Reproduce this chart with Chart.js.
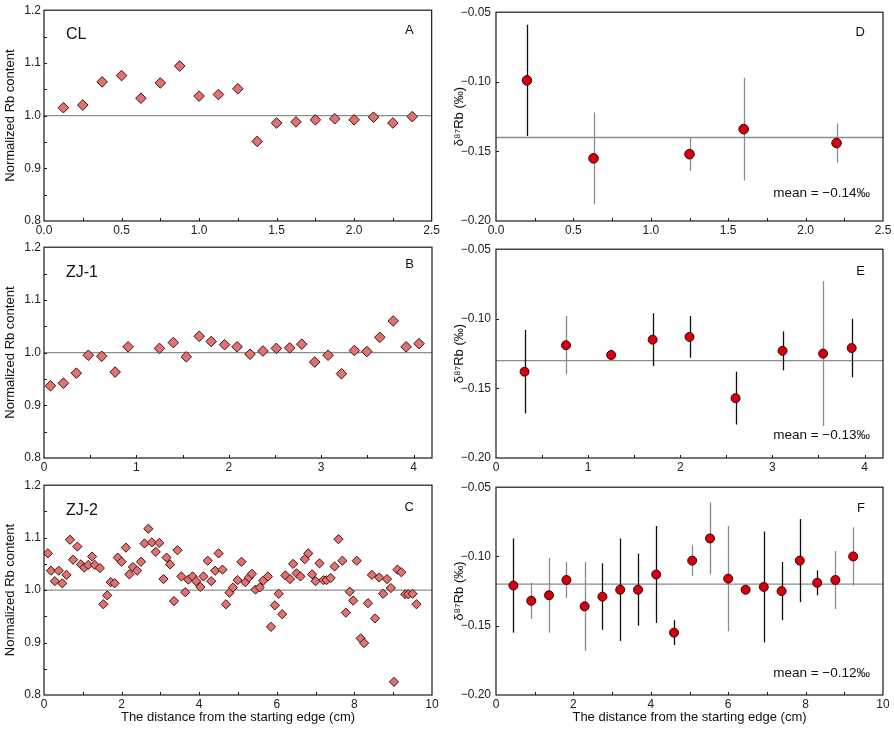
<!DOCTYPE html>
<html>
<head>
<meta charset="utf-8">
<script src="https://cdn.jsdelivr.net/npm/chart.js@4.4.1/dist/chart.umd.min.js"></script>
<style>
  html, body { margin: 0; padding: 0; background: #fff; }
  #wrap { position: relative; width: 894px; height: 729px; overflow: hidden; }
  #wrap canvas { position: absolute; }
</style>
</head>
<body>
<div id="wrap">
  <canvas id="cA"></canvas>
  <canvas id="cB"></canvas>
  <canvas id="cC"></canvas>
  <canvas id="cD"></canvas>
  <canvas id="cE"></canvas>
  <canvas id="cF"></canvas>
</div>
<script>
/* ================== DATA ================== */
// normalized Rb content profiles
const clDist = [0.125, 0.25, 0.375, 0.5, 0.625, 0.75, 0.875, 1.0, 1.125, 1.25, 1.375, 1.5, 1.625, 1.75, 1.875, 2.0, 2.125, 2.25, 2.375];
const clRb   = [1.015, 1.020, 1.064, 1.076, 1.033, 1.062, 1.094, 1.037, 1.040, 1.051, 0.951, 0.986, 0.988, 0.992, 0.994, 0.992, 0.997, 0.986, 0.998];

const zj1Dist = [0.07, 0.21, 0.35, 0.48, 0.625, 0.77, 0.91, 1.25, 1.40, 1.54, 1.68, 1.81, 1.955, 2.09, 2.23, 2.37, 2.515, 2.66, 2.79, 2.93, 3.075, 3.22, 3.36, 3.495, 3.635, 3.78, 3.92, 4.06];
const zj1Rb   = [0.937, 0.942, 0.961, 0.995, 0.993, 0.963, 1.011, 1.008, 1.019, 0.992, 1.031, 1.021, 1.015, 1.011, 0.997, 1.003, 1.008, 1.009, 1.016, 0.982, 0.995, 0.960, 1.004, 1.002, 1.029, 1.060, 1.011, 1.017];

const zj2Dist = [0.10, 0.18, 0.28, 0.38, 0.47, 0.58, 0.67, 0.75, 0.86, 0.95, 1.04, 1.14, 1.24, 1.31, 1.44, 1.53, 1.63, 1.72, 1.82, 1.90,
                 2.00, 2.11, 2.20, 2.29, 2.40, 2.50, 2.59, 2.69, 2.78, 2.88, 2.97, 3.08, 3.16, 3.25, 3.35, 3.44, 3.54, 3.64, 3.72, 3.83,
                 3.92, 4.03, 4.11, 4.22, 4.31, 4.41, 4.50, 4.60, 4.69, 4.78, 4.87, 4.99, 5.09, 5.19, 5.28, 5.36, 5.45, 5.56, 5.65, 5.77,
                 5.85, 5.95, 6.05, 6.14, 6.22, 6.34, 6.42, 6.51, 6.61, 6.72, 6.81, 6.91, 7.00, 7.10, 7.20, 7.28, 7.39, 7.49, 7.59, 7.69,
                 7.78, 7.88, 7.97, 8.06, 8.16, 8.25, 8.35, 8.45, 8.53, 8.64, 8.74, 8.84, 8.94, 9.02, 9.11, 9.21, 9.31, 9.39, 9.50, 9.60];
const zj2Rb   = [1.070, 1.037, 1.017, 1.037, 1.013, 1.029, 1.096, 1.058, 1.083, 1.049, 1.043, 1.048, 1.064, 1.048, 1.042, 0.973, 0.990, 1.015, 1.013, 1.062,
                 1.054, 1.081, 1.030, 1.044, 1.037, 1.054, 1.089, 1.117, 1.091, 1.073, 1.090, 1.021, 1.062, 1.049, 0.979, 1.076, 1.026, 0.996, 1.020, 1.026,
                 1.017, 1.006, 1.026, 1.056, 1.017, 1.037, 1.070, 1.039, 0.973, 0.995, 1.005, 1.019, 1.054, 1.015, 1.024, 1.031, 1.001, 1.005, 1.018, 1.026,
                 0.930, 0.971, 0.993, 0.954, 1.028, 1.021, 1.050, 1.032, 1.026, 1.059, 1.070, 1.030, 1.017, 1.051, 1.019, 1.019, 1.023, 1.045, 1.097, 1.056,
                 0.957, 0.997, 0.980, 1.056, 0.908, 0.899, 0.975, 1.029, 0.946, 1.024, 0.993, 1.021, 1.004, 0.825, 1.039, 1.034, 0.992, 0.992, 0.993, 0.973];

// delta 87Rb profiles with 2SD error
const clIsoDist = [0.20, 0.63, 1.25, 1.60, 2.20];
const clIso     = [-0.099, -0.155, -0.152, -0.134, -0.144];
const clIsoErr  = [0.040, 0.033, 0.012, 0.037, 0.014];

const zj1IsoDist = [0.31, 0.76, 1.25, 1.70, 2.10, 2.60, 3.11, 3.55, 3.86];
const zj1Iso     = [-0.138, -0.119, -0.126, -0.115, -0.113, -0.157, -0.123, -0.125, -0.121];
const zj1IsoErr  = [0.030, 0.021, 0.004, 0.019, 0.015, 0.019, 0.014, 0.052, 0.021];

const zj2IsoDist = [0.45, 0.91, 1.37, 1.82, 2.29, 2.75, 3.21, 3.67, 4.14, 4.60, 5.07, 5.53, 6.00, 6.45, 6.92, 7.38, 7.85, 8.30, 8.77, 9.23];
const zj2Iso     = [-0.121, -0.132, -0.128, -0.117, -0.136, -0.129, -0.124, -0.124, -0.113, -0.155, -0.103, -0.087, -0.116, -0.124, -0.122, -0.125, -0.103, -0.119, -0.117, -0.100];
const zj2IsoErr  = [0.034, 0.013, 0.027, 0.013, 0.032, 0.024, 0.037, 0.026, 0.035, 0.009, 0.011, 0.026, 0.038, 0.002, 0.040, 0.021, 0.030, 0.009, 0.021, 0.021];

const rbRef = 1.0;
const clMean = -0.14, zj1Mean = -0.13, zj2Mean = -0.12;

// tick values
const ticksX25 = [0, 0.5, 1.0, 1.5, 2.0, 2.5];
const ticksX4  = [0, 1, 2, 3, 4];
const ticksX10 = [0, 2, 4, 6, 8, 10];
const ticksRb  = [0.8, 0.9, 1.0, 1.1, 1.2];
const ticksIso = [-0.20, -0.15, -0.10, -0.05];

/* ================== STYLE ================== */
const FONT = "'Liberation Sans', Arial, sans-serif";
Chart.defaults.font.family = FONT;
Chart.defaults.color = '#222';

// error bar tone per point (1 = black, 0 = grey)
const toneD = [1, 0, 0, 0, 0];
const toneE = [1, 0, 0, 1, 1, 1, 1, 0, 1];
const toneF = [1, 0, 0, 0, 0, 1, 1, 1, 1, 1, 0, 0, 0, 0, 1, 1, 1, 1, 0, 0];

const COLS = {
    L: { left: 0, width: 442, yw: 44, padR: 10, titlePad: 3 },
    R: { left: 446, width: 448, yw: 50, padR: 11, titlePad: 6 }
};
const ROWS = [
    { top: 0, height: 243, xh: 22 },
    { top: 237, height: 243, xh: 22 },
    { top: 475, height: 254, xh: 34 }
];

/* ================== DECORATION PLUGIN ================== */
const mids = arr => arr.slice(1).map((v, i) => (v + arr[i]) / 2);

function makeDeco(p) {
    return {
        id: 'deco',
        beforeDatasetDraw(chart, args) {
            const ds = chart.data.datasets[0];
            if (args.index !== 0 || !ds.err) return;
            const { ctx, scales: { x, y } } = chart;
            ctx.save();
            ctx.lineWidth = 1.3;
            ds.data.forEach((pt, i) => {
                const px = Math.round(x.getPixelForValue(pt.x)) + 0.5;
                ctx.strokeStyle = ds.tone[i] ? '#111' : '#8c8c8c';
                ctx.beginPath();
                ctx.moveTo(px, y.getPixelForValue(pt.y - ds.err[i]));
                ctx.lineTo(px, y.getPixelForValue(pt.y + ds.err[i]));
                ctx.stroke();
            });
            ctx.restore();
        },
        afterDraw(chart) {
            const { ctx, chartArea: a, scales: { x, y } } = chart;
            ctx.save();
            // frame
            ctx.strokeStyle = '#1a1a1a';
            ctx.lineWidth = 1.2;
            ctx.strokeRect(a.left, a.top, a.right - a.left, a.bottom - a.top);

            // inward tick marks
            ctx.lineWidth = 1;
            const xt = p.xTicks.concat(mids(p.xTicks)).filter(v => v > x.min && v < x.max);
            xt.forEach(v => {
                const px = Math.round(x.getPixelForValue(v)) + 0.5;
                ctx.beginPath(); ctx.moveTo(px, a.bottom); ctx.lineTo(px, a.bottom - 3); ctx.stroke();
            });
            const yt = (p.yMinor ? p.yTicks.concat(mids(p.yTicks)) : p.yTicks)
                .filter(v => v > y.min + 1e-9 && v < y.max - 1e-9);
            yt.forEach(v => {
                const py = Math.round(y.getPixelForValue(v)) + 0.5;
                ctx.beginPath(); ctx.moveTo(a.left, py); ctx.lineTo(a.left + 3, py); ctx.stroke();
            });

            // texts
            ctx.fillStyle = '#111';
            ctx.textBaseline = 'alphabetic';
            if (p.name) {
                ctx.font = '16px ' + FONT;
                ctx.textAlign = 'left';
                ctx.fillText(p.name, a.left + 22, a.top + p.nameY);
            }
            ctx.font = '13px ' + FONT;
            ctx.textAlign = 'right';
            ctx.fillText(p.letter, a.right - 18, a.top + p.letterY);
            if (p.meanText) {
                ctx.font = '13.5px ' + FONT;
                ctx.fillText(p.meanText, a.right - 13, a.bottom - p.meanY);
            }
            ctx.restore();
        }
    };
}

/* ================== PANELS ================== */
const minus = s => s.replace('-', '\u2212');
const meanLabel = m => 'mean = ' + minus(m.toFixed(2)) + '\u2030';

const panels = [
    { id: 'cA', col: 'L', row: 0, xs: clDist, ys: clRb, ref: rbRef, xMax: 2.5, xTicks: ticksX25, xDec: 1,
      name: 'CL', nameY: 29, letter: 'A', letterY: 24, kind: 'rb', r: 5.3 },
    { id: 'cB', col: 'L', row: 1, xs: zj1Dist, ys: zj1Rb, ref: rbRef, xMax: 4.2, xTicks: ticksX4, xDec: 0,
      name: 'ZJ-1', nameY: 30, letter: 'B', letterY: 21, kind: 'rb', r: 5.3 },
    { id: 'cC', col: 'L', row: 2, xs: zj2Dist, ys: zj2Rb, ref: rbRef, xMax: 10, xTicks: ticksX10, xDec: 0,
      name: 'ZJ-2', nameY: 30, letter: 'C', letterY: 26, kind: 'rb', r: 4.6 },
    { id: 'cD', col: 'R', row: 0, xs: clIsoDist, ys: clIso, err: clIsoErr, tone: toneD, ref: clMean, xMax: 2.5, xTicks: ticksX25, xDec: 1,
      letter: 'D', letterY: 24, meanText: meanLabel(clMean), meanY: 24, kind: 'iso', r: 4.8 },
    { id: 'cE', col: 'R', row: 1, xs: zj1IsoDist, ys: zj1Iso, err: zj1IsoErr, tone: toneE, ref: zj1Mean, xMax: 4.2, xTicks: ticksX4, xDec: 0,
      letter: 'E', letterY: 26, meanText: meanLabel(zj1Mean), meanY: 19, kind: 'iso', r: 4.5 },
    { id: 'cF', col: 'R', row: 2, xs: zj2IsoDist, ys: zj2Iso, err: zj2IsoErr, tone: toneF, ref: zj2Mean, xMax: 10, xTicks: ticksX10, xDec: 0,
      letter: 'F', letterY: 25, meanText: meanLabel(zj2Mean), meanY: 18, kind: 'iso', r: 4.5 }
];

function buildPanel(p) {
    const col = COLS[p.col], row = ROWS[p.row];
    const canvas = document.getElementById(p.id);
    canvas.width = col.width;
    canvas.height = row.height;
    canvas.style.left = col.left + 'px';
    canvas.style.top = row.top + 'px';

    const isRb = p.kind === 'rb';
    p.yTicks = isRb ? ticksRb : ticksIso;
    p.yMinor = isRb;
    const bottomRow = p.row === 2;

    return new Chart(canvas, {
        type: 'scatter',
        data: {
            datasets: [
                {
                    data: p.xs.map((v, i) => ({ x: v, y: p.ys[i] })),
                    err: p.err, tone: p.tone,
                    pointStyle: isRb ? 'rectRot' : 'circle',
                    pointRadius: p.r,
                    backgroundColor: isRb ? '#e07272' : '#d40010',
                    borderColor: isRb ? '#3a1414' : '#3a0000',
                    borderWidth: 1
                },
                {
                    type: 'line',
                    data: [{ x: 0, y: p.ref }, { x: p.xMax, y: p.ref }],
                    borderColor: '#8c8c8c',
                    borderWidth: 1.3,
                    pointRadius: 0
                }
            ]
        },
        options: {
            responsive: false,
            animation: false,
            events: [],
            layout: { padding: { top: 8, right: col.padR, left: 0, bottom: 0 } },
            plugins: { legend: { display: false }, tooltip: { enabled: false } },
            scales: {
                x: {
                    type: 'linear', min: 0, max: p.xMax,
                    afterBuildTicks: s => { s.ticks = p.xTicks.map(v => ({ value: v })); },
                    afterFit: s => { s.height = row.xh; },
                    ticks: {
                        autoSkip: false, maxRotation: 0, padding: 2,
                        font: { size: 12 }, color: '#222',
                        callback: v => v.toFixed(p.xDec)
                    },
                    grid: { display: false, drawTicks: false },
                    border: { display: false },
                    title: {
                        display: bottomRow,
                        text: 'The distance from the starting edge (cm)',
                        font: { size: 13 }, color: '#111',
                        padding: { top: 0, bottom: 4 }
                    }
                },
                y: {
                    type: 'linear',
                    min: isRb ? 0.8 : -0.2, max: isRb ? 1.2 : -0.05,
                    afterBuildTicks: s => { s.ticks = p.yTicks.map(v => ({ value: v })); },
                    afterFit: s => { s.width = col.yw; },
                    ticks: {
                        padding: isRb ? 3 : 5,
                        font: { size: 12 }, color: '#222',
                        callback: v => isRb ? v.toFixed(1) : minus(v.toFixed(2))
                    },
                    grid: { display: false, drawTicks: false },
                    border: { display: false },
                    title: {
                        display: true,
                        text: isRb ? 'Normalized Rb content' : '\u03b4\u2078\u2077Rb (\u2030)',
                        font: { size: 13 }, color: '#111',
                        padding: { top: col.titlePad, bottom: 0 }
                    }
                }
            }
        },
        plugins: [makeDeco(p)]
    });
}

window.addEventListener('load', () => {
    panels.forEach(buildPanel);
});
</script>
</body>
</html>
